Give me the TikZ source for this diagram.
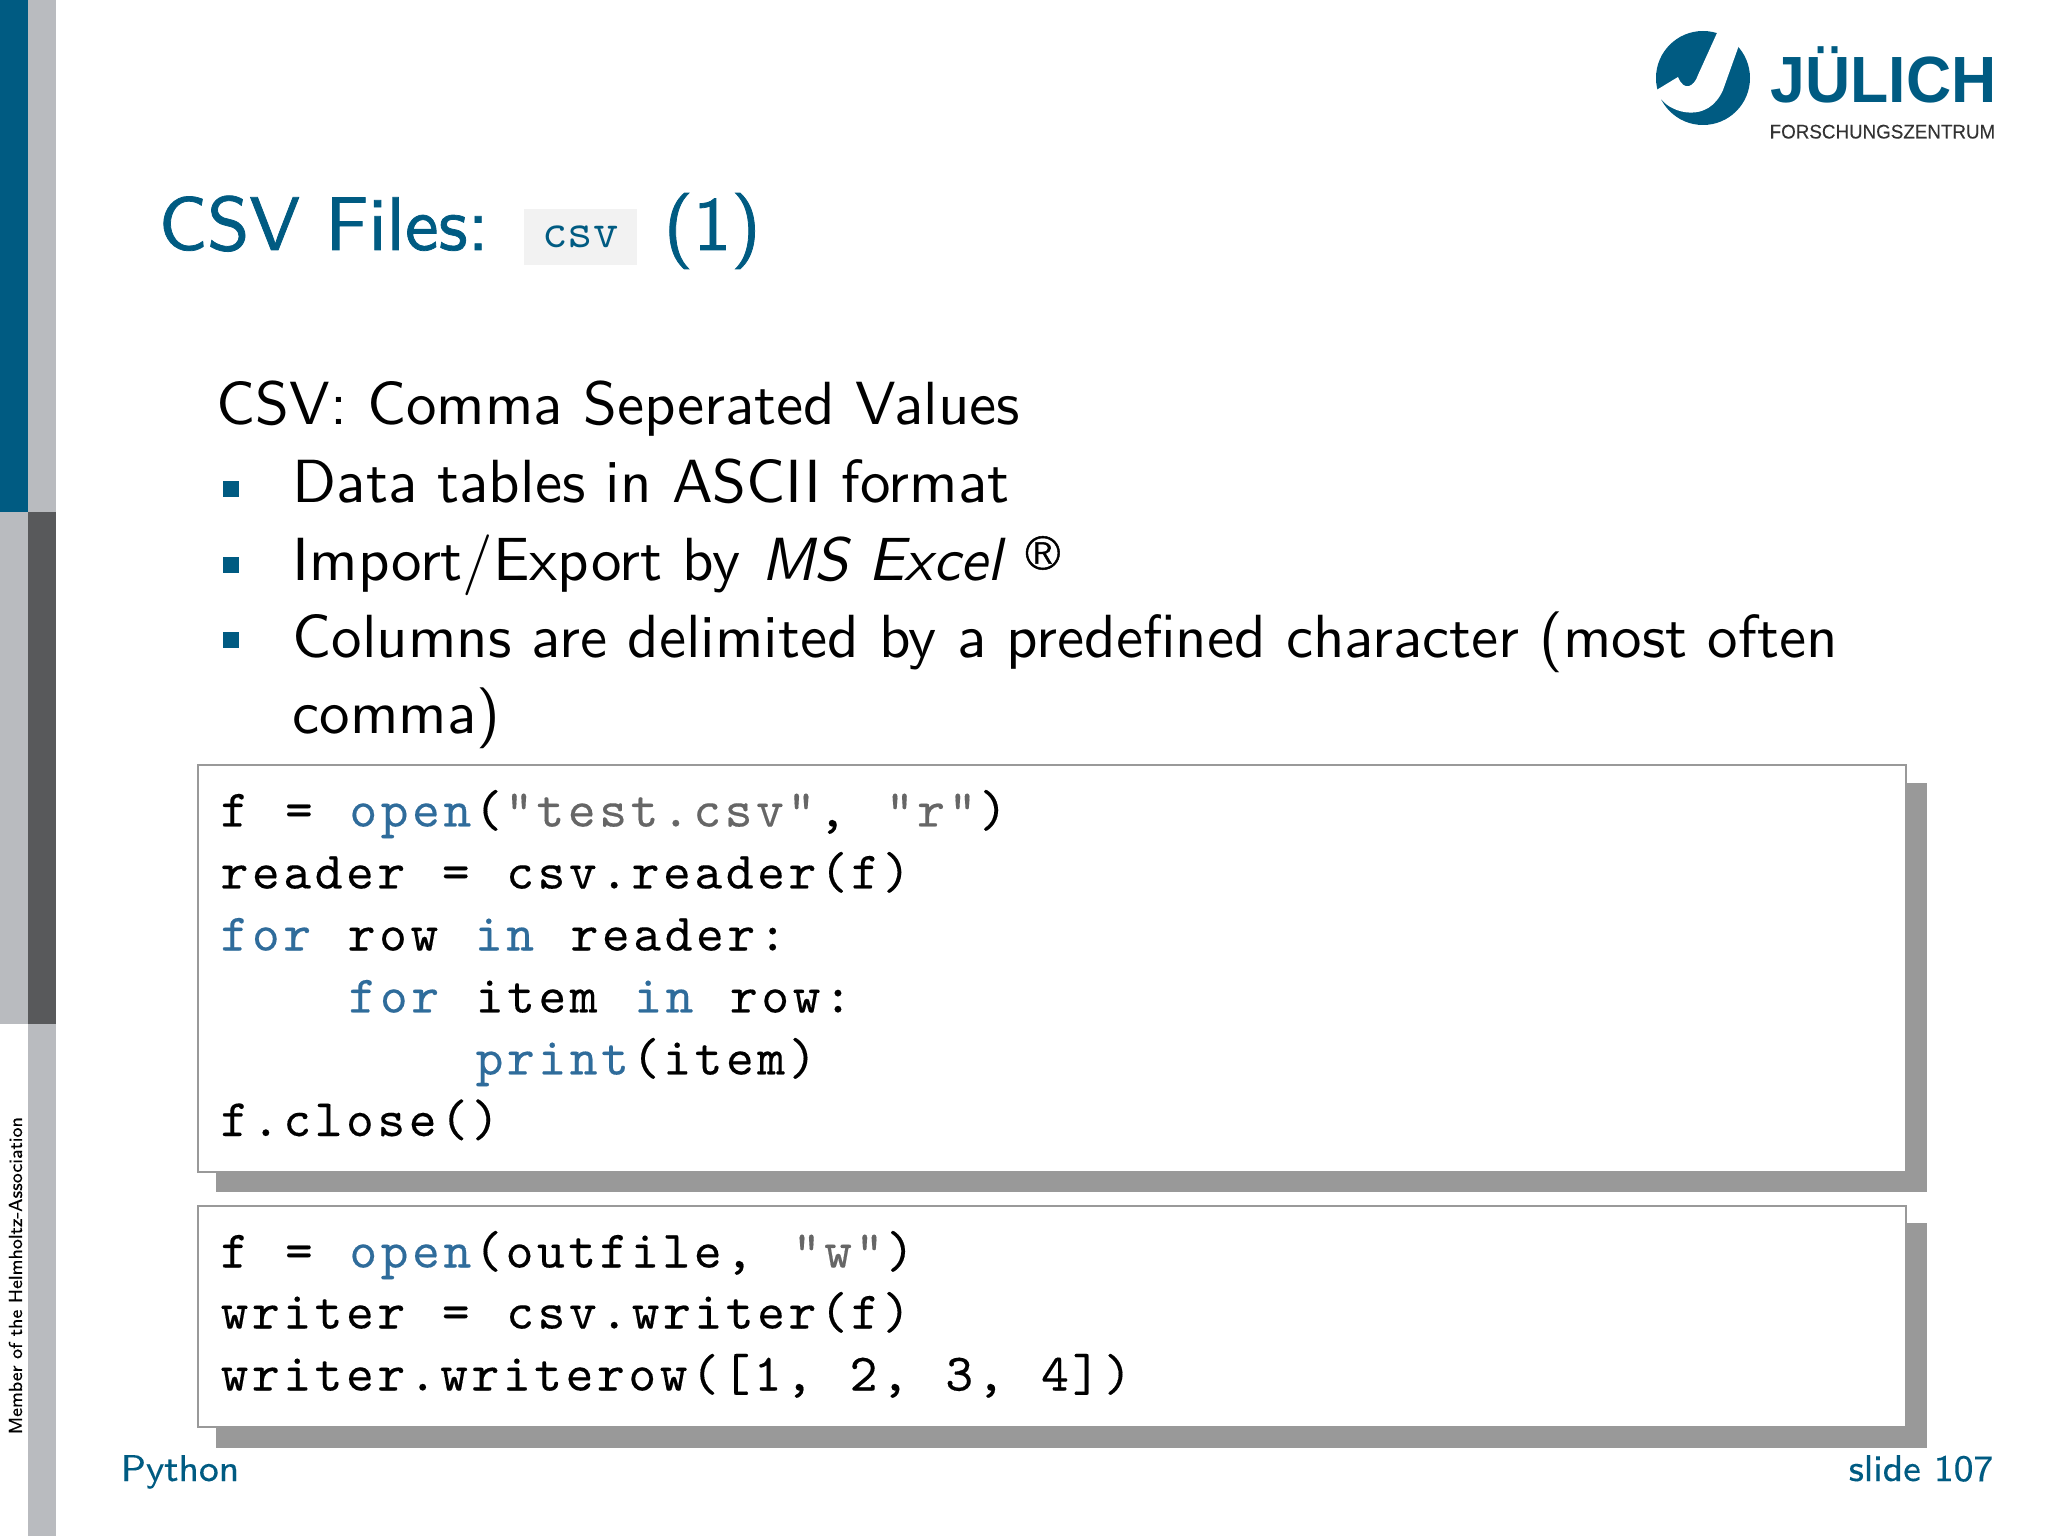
\documentclass[tikz,border=0pt]{standalone}
\usepackage{fontspec}
\usepackage{xcolor}
\newfontfamily\logofont[FakeStretch=0.955,FakeBold=0.2]{Liberation Sans}
\newfontfamily\logobold[FakeStretch=0.957]{Liberation Sans Bold}
\newfontfamily\smallsans[FakeBold=0.2]{lmsans8-regular.otf}
\newfontfamily\mainsans{lmsans10-regular.otf}[ItalicFont=lmsans10-oblique.otf]
\newfontfamily\headsans[FakeBold=1]{lmsans10-regular.otf}
\newfontfamily\regsign[FakeBold=1]{lmsans10-regular.otf}
\newfontfamily\codefont[LetterSpace=7,WordSpace=1.17,FakeBold=0.25]{lmmono10-regular.otf}
\definecolor{fzjblue}{HTML}{005B82}
\definecolor{barlight}{HTML}{B9BBBF}
\definecolor{bardark}{HTML}{58595B}
\definecolor{boxshade}{HTML}{999999}
\definecolor{codekw}{HTML}{2F6C9B}
\definecolor{codestr}{HTML}{666666}
\newcommand{\kw}[1]{\textcolor{codekw}{#1}}
\newcommand{\fn}[1]{\textcolor{codekw}{#1}\kern0.9pt\relax}
\newcommand{\strlit}[1]{\kern0.9pt\relax\textcolor{codestr}{#1}\kern0.9pt\relax}
\usetikzlibrary{positioning}

\begin{document}
\begin{tikzpicture}[
    y=-1cm,
    txtline/.style={inner sep=0, anchor=base west},
    titletext/.style={txtline, text=fzjblue, font=\headsans\fontsize{21.6}{24}\selectfont},
    bodytext/.style={txtline, font=\mainsans\fontsize{17.34}{20}\selectfont},
    codeline/.style={txtline, font=\codefont\fontsize{15}{18}\selectfont},
    foottext/.style={txtline, text=fzjblue, font=\smallsans\fontsize{10.6}{13}\selectfont},
    bullet/.style={fill=fzjblue, inner sep=0, minimum size=0.16cm},
    frame/.style={draw=boxshade, fill=white, line width=0.02cm},
    shade/.style={fill=boxshade}
]
    \useasboundingbox (0,0) rectangle (20.48,15.36);

    % side bars
    \fill[fzjblue] (0,0) rectangle (0.28,5.12);
    \fill[barlight] (0.28,0) rectangle (0.56,5.12);
    \fill[barlight] (0,5.12) rectangle (0.28,10.24);
    \fill[bardark] (0.28,5.12) rectangle (0.56,10.24);
    \fill[barlight] (0.28,10.24) rectangle (0.56,15.36);
    \node[txtline, rotate=90, font=\smallsans\fontsize{5.35}{7}\selectfont] (member) at (0.22,14.35) {Member of the Helmholtz-Association};

    % logo
    \fill[fzjblue] (17.03,0.78) circle[radius=0.47];
    \fill[white] (17.20,0.25) -- (17.17,0.33) -- (16.98,0.75)
        .. controls (16.94,0.87) and (16.84,0.92) .. (16.78,0.77)
        -- (16.50,0.94) -- (16.62,1.00)
        .. controls (16.72,1.13) and (17.08,1.24) .. (17.23,0.90)
        -- (17.38,0.48) -- (17.45,0.30) -- cycle;
    \node[txtline, text=fzjblue, font=\logobold\fontsize{18.6}{20}\selectfont] (juelich) at (17.70,1.03) {JÜLICH};
    \node[txtline, text=black!80, font=\logofont\fontsize{5.6}{6}\selectfont] (fz) at (17.69,1.385) {FORSCHUNGSZENTRUM};

    % title
    \node[titletext] (title) at (1.58,2.50) {CSV Files:};
    \node[fill=black!5, minimum width=1.13cm, minimum height=0.56cm, inner sep=0] (csvbox) at (5.805,2.37) {};
    \node[txtline, text=fzjblue, font=\ttfamily\fontsize{14}{16}\selectfont, anchor=base] (csvname) at (5.805,2.48) {csv};
    \node[titletext] (titlenum) at (6.63,2.50) {(1)};

    % text
    \node[bodytext] (intro) at (2.16,4.24) {CSV: Comma Seperated Values};
    \node[bullet] (b1) at (2.31,4.89) {};
    \node[bullet] (b2) at (2.31,5.65) {};
    \node[bullet] (b3) at (2.31,6.40) {};
    \node[bodytext] (item1) at (2.92,5.03) {Data tables in ASCII format};
    \node[bodytext] (item2) at (2.92,5.80) {Import/Export by \textit{MS Excel} \raisebox{2.9pt}{\regsign\fontsize{13.8}{14}\selectfont\textregistered}};
    \node[bodytext] (item3) at (2.92,6.57) {Columns are delimited by a predefined character (most often};
    \node[bodytext] (item3b) at (2.92,7.34) {comma)};

    % reading
    \fill[shade] (2.16,7.83) rectangle (19.27,11.92);
    \draw[frame] (1.98,7.65) rectangle (19.06,11.72);
    \node[codeline] (r1) at (2.20,8.265) {f = \fn{open}(\strlit{"test.csv"}, \strlit{"r"})};
    \node[codeline] (r2) at (2.20,8.885) {reader = csv.reader(f)};
    \node[codeline] (r3) at (2.20,9.505) {\kw{for} row \kw{in} reader:};
    \node[codeline] (r4) at (3.48,10.125) {\kw{for} item \kw{in} row:};
    \node[codeline] (r5) at (4.75,10.745) {\fn{print}(item)};
    \node[codeline] (r6) at (2.20,11.36) {f.close()};

    % writing
    \fill[shade] (2.16,12.23) rectangle (19.27,14.48);
    \draw[frame] (1.98,12.06) rectangle (19.06,14.27);
    \node[codeline] (w1) at (2.20,12.675) {f = \fn{open}(outfile, \strlit{"w"})};
    \node[codeline] (w2) at (2.20,13.285) {writer = csv.writer(f)};
    \node[codeline] (w3) at (2.20,13.905) {writer.writerow([1, 2, 3, 4])};

    % footer
    \node[foottext] (topic) at (1.20,14.81) {Python};
    \node[foottext, anchor=base east] (slideno) at (19.94,14.81) {slide 107};
\end{tikzpicture}
\end{document}
